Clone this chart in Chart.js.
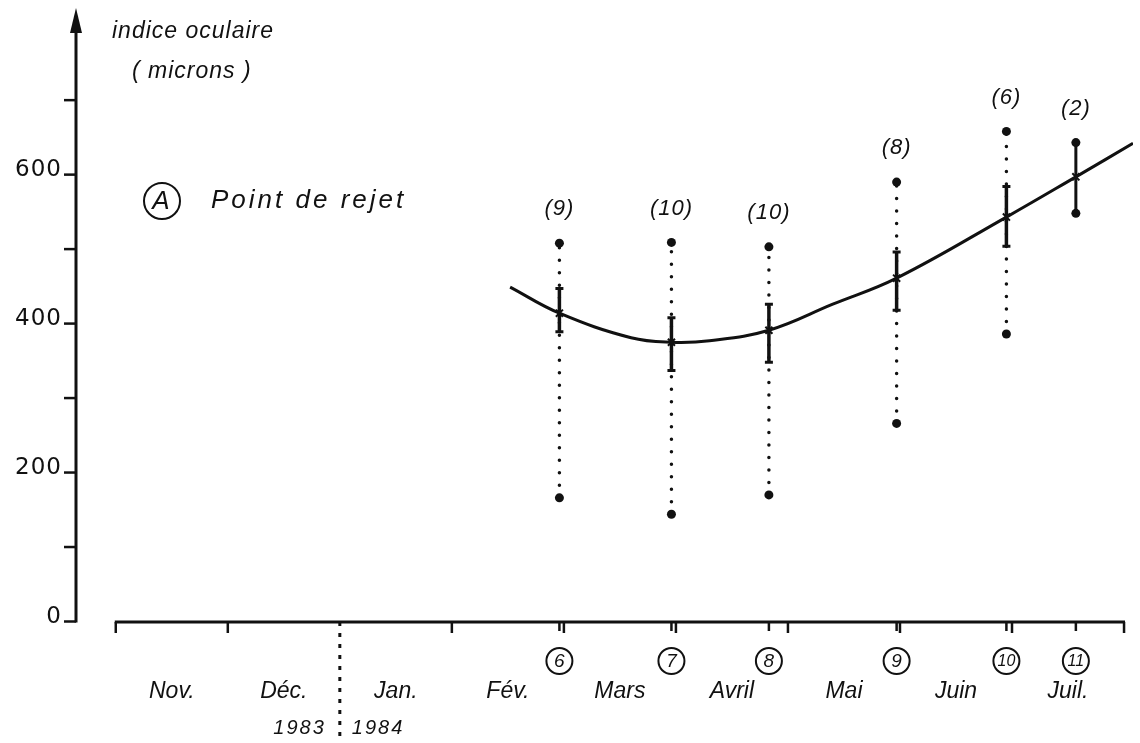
<!DOCTYPE html>
<html>
<head>
<meta charset="utf-8">
<script src="https://cdn.jsdelivr.net/npm/chart.js@4.4.1/dist/chart.umd.min.js"></script>
<style>
  html, body { margin: 0; padding: 0; background: #fff; }
</style>
</head>
<body>
<canvas id="indice" width="1140" height="743"></canvas>
<script>
// axe des x : 0 = début novembre 1983, 1 unité = 1 mois
const mois = ['Nov.', 'Déc.', 'Jan.', 'Fév.', 'Mars', 'Avril', 'Mai', 'Juin', 'Juil.'];
const annees = ['1983', '1984'];
const graduationsY = [0, 100, 200, 300, 400, 500, 600, 700];
const etiquettesY = [0, 200, 400, 600];

// prélèvements (numéro, date, effectif)
const numeros = [6, 7, 8, 9, 10, 11];
const dates = [3.96, 4.96, 5.83, 6.97, 7.95, 8.57];
const effectifs = [9, 10, 10, 8, 6, 2];

// indice oculaire (microns)
const moyennes = [414, 375, 391, 461, 543, 597];
const erreurBasse = [389, 337, 348, 418, 504, null];
const erreurHaute = [447, 408, 426, 496, 584, null];
const minimums = [166, 144, 170, 266, 386, 548];
const maximums = [508, 509, 503, 590, 658, 643];

// courbe d'ajustement
const courbeX = [3.52, 3.96, 4.6, 4.96, 5.3, 5.83, 6.4, 6.97, 7.95, 8.57, 9.08];
const courbeY = [449, 414, 381, 375, 377, 391, 426, 461, 543, 597, 642];

const NOIR = '#111';
const POLICE = '"Liberation Sans", Arial, sans-serif';

// segments verticaux min -> max, coupés par un point vide
function segments(bas, haut, garder) {
    const pts = [];
    dates.forEach((d, i) => {
        if (!garder(i)) return;
        pts.push({x: d, y: bas[i]}, {x: d, y: haut[i]}, {x: d, y: null});
    });
    return pts;
}

// axes, graduations et textes dessinés à la main
const habillage = {
    id: 'habillage',
    afterDraw(chart) {
        const ctx = chart.ctx;
        const sx = chart.scales.x, sy = chart.scales.y;
        const x0 = sx.getPixelForValue(sx.min);
        const y0 = sy.getPixelForValue(0);
        const axeX = y0 + 0.5;

        ctx.save();
        ctx.strokeStyle = NOIR;
        ctx.fillStyle = NOIR;
        ctx.lineCap = 'butt';

        // axe vertical + flèche
        ctx.lineWidth = 3;
        ctx.beginPath();
        ctx.moveTo(x0, y0 + 1);
        ctx.lineTo(x0, 26);
        ctx.stroke();
        ctx.beginPath();
        ctx.moveTo(x0, 8);
        ctx.lineTo(x0 - 6, 33);
        ctx.lineTo(x0 + 6, 33);
        ctx.closePath();
        ctx.fill();

        ctx.lineWidth = 2.5;
        graduationsY.forEach(g => {
            const y = sy.getPixelForValue(g);
            ctx.beginPath();
            ctx.moveTo(x0 - 12, y);
            ctx.lineTo(x0, y);
            ctx.stroke();
        });
        ctx.font = '23px "DejaVu Sans", sans-serif';
        ctx.letterSpacing = '1px';
        ctx.textAlign = 'right';
        ctx.textBaseline = 'alphabetic';
        etiquettesY.forEach(g => {
            ctx.fillText(String(g), x0 - 14, sy.getPixelForValue(g) + 1);
        });
        ctx.letterSpacing = '0px';

        // axe horizontal et limites des mois
        const xa = sx.getPixelForValue(0), xb = sx.getPixelForValue(mois.length);
        ctx.lineWidth = 3;
        ctx.beginPath();
        ctx.moveTo(xa - 1, axeX);
        ctx.lineTo(xb + 1, axeX);
        ctx.stroke();
        ctx.lineWidth = 2.5;
        for (let i = 0; i <= mois.length; i++) {
            if (i === 2) continue;
            const x = sx.getPixelForValue(i);
            ctx.beginPath();
            ctx.moveTo(x, axeX);
            ctx.lineTo(x, axeX + 11);
            ctx.stroke();
        }

        // séparation 1983 / 1984
        const xs = sx.getPixelForValue(2);
        ctx.save();
        ctx.lineWidth = 3;
        ctx.setLineDash([4, 7]);
        ctx.beginPath();
        ctx.moveTo(xs, axeX);
        ctx.lineTo(xs, 743);
        ctx.stroke();
        ctx.restore();

        ctx.font = 'italic 23px ' + POLICE;
        ctx.textAlign = 'center';
        ctx.textBaseline = 'middle';
        mois.forEach((m, i) => {
            ctx.fillText(m, sx.getPixelForValue(i + 0.5), 692);
        });
        ctx.font = 'italic 20px ' + POLICE;
        ctx.letterSpacing = '2px';
        ctx.textAlign = 'right';
        ctx.fillText(annees[0], xs - 14, 728);
        ctx.textAlign = 'left';
        ctx.fillText(annees[1], xs + 12, 728);
        ctx.letterSpacing = '0px';

        // dates de prélèvement numérotées
        ctx.textAlign = 'center';
        dates.forEach((d, i) => {
            const x = sx.getPixelForValue(d);
            ctx.lineWidth = 2.5;
            ctx.beginPath();
            ctx.moveTo(x, axeX);
            ctx.lineTo(x, axeX + 9);
            ctx.stroke();
            ctx.lineWidth = 2;
            ctx.beginPath();
            ctx.arc(x, 661, 13, 0, Math.PI * 2);
            ctx.stroke();
            ctx.font = (numeros[i] > 9 ? 'italic 16px ' : 'italic 19px ') + POLICE;
            ctx.fillText(String(numeros[i]), x, 662);
        });

        // effectifs au-dessus de chaque prélèvement
        ctx.font = 'italic 22px ' + POLICE;
        ctx.letterSpacing = '1px';
        dates.forEach((d, i) => {
            ctx.fillText('(' + effectifs[i] + ')', sx.getPixelForValue(d), sy.getPixelForValue(maximums[i]) - 34);
        });

        // titre de l'axe
        ctx.textAlign = 'left';
        ctx.font = 'italic 23px ' + POLICE;
        ctx.letterSpacing = '1px';
        ctx.fillText('indice oculaire', 112, 32);
        ctx.fillText('( microns )', 132, 72);

        // légende A
        ctx.lineWidth = 2;
        ctx.beginPath();
        ctx.arc(162, 201, 18, 0, Math.PI * 2);
        ctx.stroke();
        ctx.letterSpacing = '0px';
        ctx.textAlign = 'center';
        ctx.font = 'italic 26px ' + POLICE;
        ctx.fillText('A', 161, 202);
        ctx.textAlign = 'left';
        ctx.letterSpacing = '3px';
        ctx.fillText('Point de rejet', 211, 201);
        ctx.restore();
    }
};

const ctx = document.getElementById('indice').getContext('2d');
const chart = new Chart(ctx, {
    type: 'scatter',
    data: {
        datasets: [
            {
                // moyennes
                data: dates.map((d, i) => ({x: d, y: moyennes[i]})),
                pointStyle: 'crossRot',
                pointRadius: 5,
                pointBorderWidth: 2,
                borderColor: NOIR,
                showLine: false,
                order: 0
            },
            {
                // courbe ajustée
                data: courbeX.map((x, i) => ({x: x, y: courbeY[i]})),
                showLine: true,
                tension: 0.4,
                borderColor: NOIR,
                borderWidth: 3,
                pointRadius: 0,
                order: 1
            },
            {
                // erreur standard
                data: segments(erreurBasse, erreurHaute, i => erreurBasse[i] !== null),
                showLine: true,
                borderColor: NOIR,
                borderWidth: 3.5,
                pointStyle: 'line',
                pointRadius: 4,
                pointBorderWidth: 3,
                order: 2
            },
            {
                // étendue sans erreur standard (trait plein)
                data: segments(minimums, maximums, i => erreurBasse[i] === null),
                showLine: true,
                borderColor: NOIR,
                borderWidth: 3,
                pointRadius: 4.5,
                pointBackgroundColor: NOIR,
                pointBorderWidth: 0,
                order: 3
            },
            {
                // étendue min - max (pointillés)
                data: segments(minimums, maximums, i => erreurBasse[i] !== null),
                showLine: true,
                borderColor: NOIR,
                borderWidth: 3.5,
                borderDash: [0, 12.5],
                borderCapStyle: 'round',
                pointRadius: 4.5,
                pointBackgroundColor: NOIR,
                pointBorderWidth: 0,
                order: 4
            }
        ]
    },
    options: {
        responsive: false,
        devicePixelRatio: 1,
        animation: false,
        layout: {
            padding: {left: 76, right: 0, top: 14.5, bottom: 121.5}
        },
        scales: {
            x: {type: 'linear', min: -0.355, max: 9.08, display: false},
            y: {type: 'linear', min: 0, max: 815, display: false}
        },
        plugins: {
            legend: {display: false},
            tooltip: {enabled: false}
        }
    },
    plugins: [habillage]
});
</script>
</body>
</html>
